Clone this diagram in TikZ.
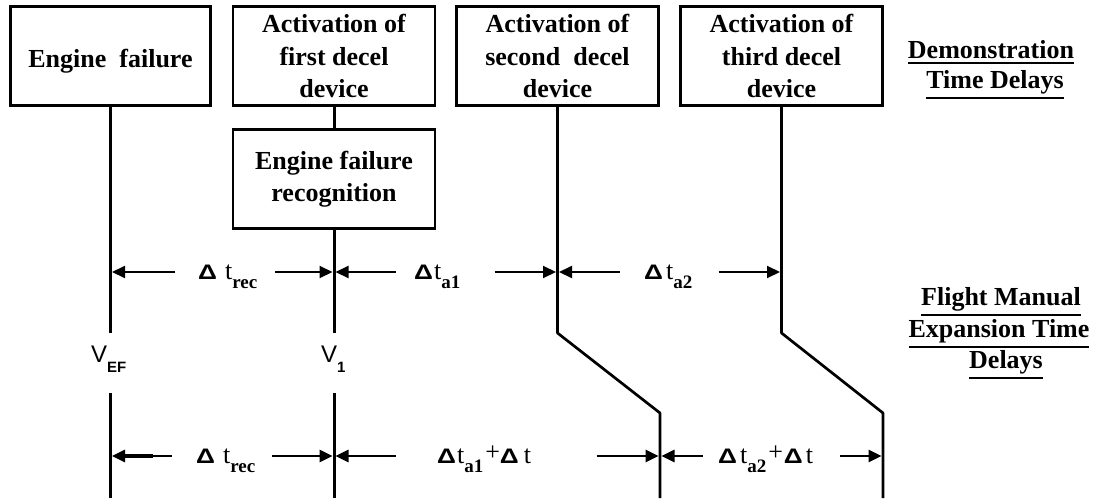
\documentclass[tikz,border=0pt]{standalone}
\usepackage{fontspec}
\usepackage{graphicx}
\setmainfont{Liberation Serif}
\newfontfamily\sansf{Liberation Sans}
\usetikzlibrary{arrows.meta}
\newcommand\Dl{\scalebox{1.25}[1]{\fontsize{21}{21}\selectfont\sansf\bfseries Δ}}
\newcommand\tsub[1]{\raisebox{-9pt}{\fontsize{19}{19}\selectfont\bfseries #1}}
\newcommand\vsub[1]{\raisebox{-10pt}{\fontsize{15}{15}\selectfont\sansf\bfseries #1}}
\newcommand\ulx[1]{\setbox0\hbox{#1}\leavevmode\rlap{\rule[-\dimexpr\dp0+5.5pt\relax]{\wd0}{2.2pt}}\box0}
\begin{document}
\begin{tikzpicture}[x=1pt,y=-1pt,
  box/.style={draw, line width=2.6pt, minimum width=202pt, minimum height=99pt,
    align=center, inner sep=0pt, font=\fontsize{26}{32.5}\selectfont\bfseries},
  tl/.style={line width=3pt},
  tld/.style={line width=2.7pt, line join=round},
  dim/.style={line width=2pt, -{Triangle[length=13pt,width=12pt]}},
  dimb/.style={line width=2.7pt, -{Triangle[length=13pt,width=12pt]}},
  lab/.style={anchor=base west, inner sep=0pt, font=\fontsize{26}{26}\selectfont},
  vl/.style={anchor=base west, inner sep=0pt, font=\fontsize{24}{24}\selectfont\sansf},
  hd/.style={anchor=base, inner sep=0pt, font=\fontsize{26}{26}\selectfont\bfseries}]
\useasboundingbox (0,0) rectangle (1094,498);
\fill[white] (0,0) rectangle (1094,498);

% boxes
\node[box, minimum width=200pt] (ef) at (110.5,56) {\raisebox{-5pt}[18pt][6pt]{Engine\ \ failure}};
\node[box] (a1) at (334,56) {Activation of\\first decel\\device};
\node[box] (rec) at (334,179) {Engine failure\\recognition};
\node[box] (a2) at (557.5,56) {Activation of\\second\ \ decel\\device};
\node[box] (a3) at (781.5,56) {Activation of\\third decel\\device};

% timeline coordinates
\coordinate (l1a) at (110.5,333); \coordinate (l1b) at (110.5,393); \coordinate (l1e) at (110.5,498);
\coordinate (l2a) at (334,333); \coordinate (l2b) at (334,393); \coordinate (l2e) at (334,498);
\coordinate (l3a) at (557.5,333); \coordinate (l3b) at (660,413); \coordinate (l3e) at (660,498);
\coordinate (l4a) at (781.5,333); \coordinate (l4b) at (883,413); \coordinate (l4e) at (883,498);

% timelines
\draw[tl] (ef.south) -- (l1a);
\draw[tl] (l1b) -- (l1e);
\draw[tl] (a1.south) -- (rec.north);
\draw[tl] (rec.south) -- (l2a);
\draw[tl] (l2b) -- (l2e);
\draw[tld] (a2.south) -- (l3a) -- (l3b) -- (l3e);
\draw[tld] (a3.south) -- (l4a) -- (l4b) -- (l4e);

% V labels
\node[vl] (vef) at (91,362) {V\vsub{EF}};
\node[vl] (v1) at (321,362) {V\vsub{1}};

% row 1 tips and starts
\coordinate (p11) at (112,272);   \coordinate (s11) at (175.4,272);
\coordinate (p12) at (332.5,272); \coordinate (s12) at (275,272);
\coordinate (p13) at (335.5,272); \coordinate (s13) at (396,272);
\coordinate (p14) at (556,272);   \coordinate (s14) at (494.5,272);
\coordinate (p15) at (559,272);   \coordinate (s15) at (619.5,272);
\coordinate (p16) at (780,272);   \coordinate (s16) at (718.5,272);
% row 2 tips and starts
\coordinate (p21) at (112,456);   \coordinate (s21) at (172,456);
\coordinate (k21) at (152.5,456);
\coordinate (p22) at (332.5,456); \coordinate (s22) at (272,456);
\coordinate (p23) at (335.5,456); \coordinate (s23) at (396,456);
\coordinate (p24) at (658.5,456); \coordinate (s24) at (596.5,456);
\coordinate (p25) at (661.5,456); \coordinate (s25) at (702.5,456);
\coordinate (p26) at (881.5,456); \coordinate (s26) at (840,456);

% row 1 labels
\node[lab] (trec1) at (198,279) {\Dl\hspace{8pt}t\tsub{rec}};
\node[lab] (ta1) at (414,279) {\Dl\hspace{1pt}t\tsub{a1}};
\node[lab] (ta2) at (644,279) {\Dl\hspace{3pt}t\tsub{a2}};
% row 2 labels
\node[lab] (trec2) at (196,463) {\Dl\hspace{8pt}t\tsub{rec}};
\node[lab] (ta1b) at (437,463) {\Dl\hspace{1pt}t\tsub{a1}\hspace{2pt}\raisebox{3pt}{+}\Dl\hspace{5pt}t};
\node[lab] (ta2b) at (718,463) {\Dl\hspace{3pt}t\tsub{a2}\hspace{2pt}\raisebox{3pt}{+}\hspace{1pt}\Dl\hspace{3pt}t};

% row 1 arrows
\draw[dim] (s11) -- (p11);
\draw[dim] (s12) -- (p12);
\draw[dim] (s13) -- (p13);
\draw[dim] (s14) -- (p14);
\draw[dim] (s15) -- (p15);
\draw[dim] (s16) -- (p16);
% row 2 arrows
\draw[dimb] (s21) -- (p21);
\draw[line width=4.5pt] (k21) -- ([xshift=8pt]p21);
\draw[dimb] (s22) -- (p22);
\draw[dimb] (s23) -- (p23);
\draw[dimb] (s24) -- (p24);
\draw[dimb] (s25) -- (p25);
\draw[dimb] (s26) -- (p26);

% right headings
\node[hd] (dm1) at (991,58) {\ulx{Demonstration}};
\node[hd] (dm2) at (995,88) {\ulx{Time Delays}};
\node[hd] (fm1) at (1001,305) {\ulx{Flight Manual}};
\node[hd] (fm2) at (999,337) {\ulx{Expansion Time}};
\node[hd] (fm3) at (1006,368) {\ulx{Delays}};
\end{tikzpicture}
\end{document}
